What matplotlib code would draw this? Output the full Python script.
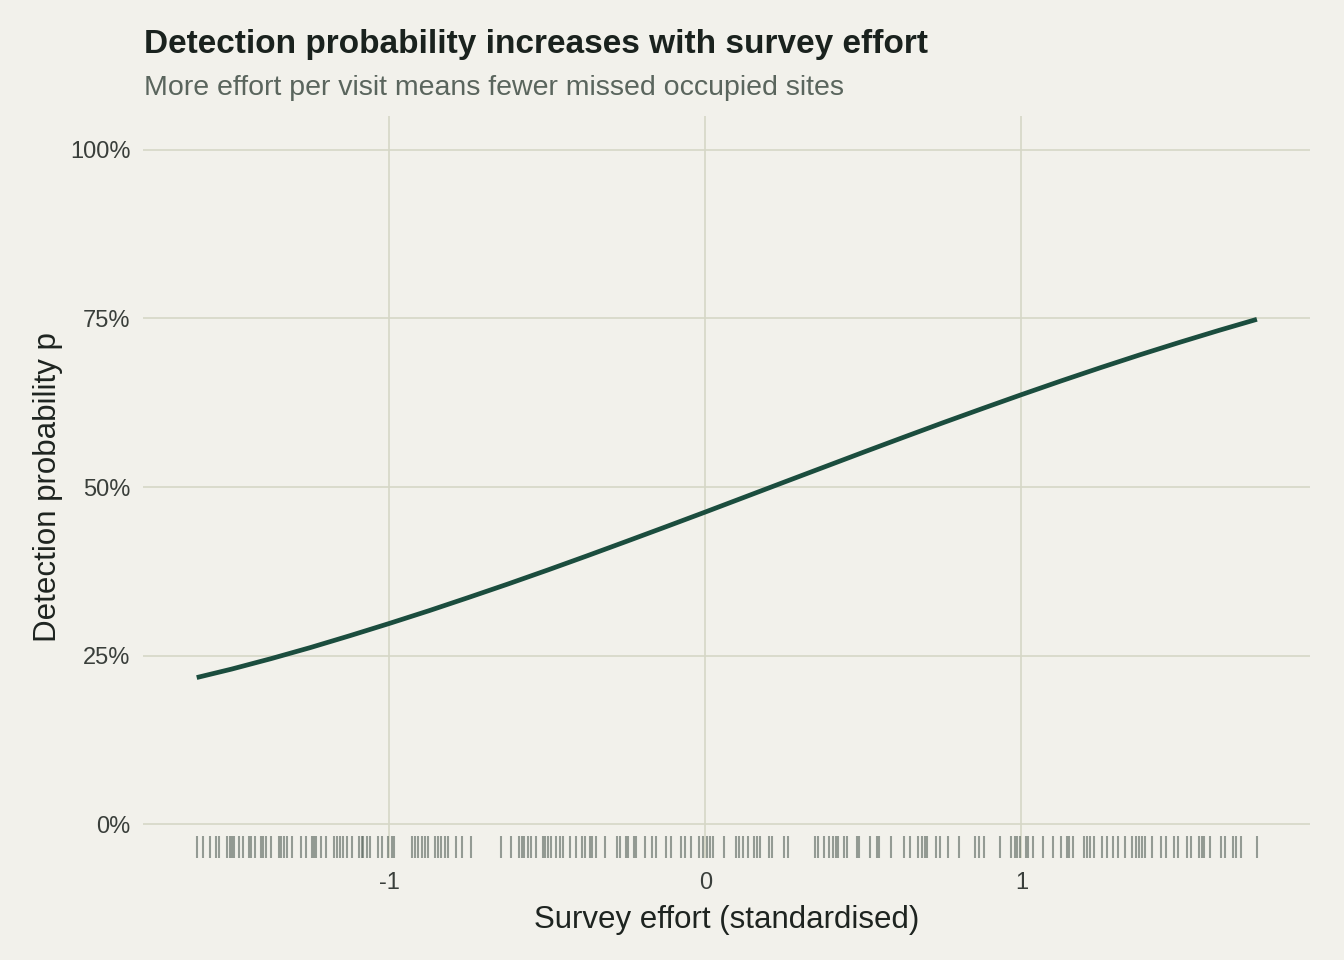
import numpy as np
import matplotlib.pyplot as plt
import matplotlib.transforms as mtransforms
from matplotlib.ticker import PercentFormatter

plt.rcParams['font.family'] = ['Liberation Sans', 'DejaVu Sans']
plt.rcParams['axes.unicode_minus'] = False

# Curva ajustada
effort_x = [-1.61, -1.5, -1.375, -1.25, -1.125, -1.0, -0.875, -0.75, -0.625, -0.5, -0.375,
            -0.25, -0.125, 0.0, 0.125, 0.25, 0.375, 0.5, 0.625, 0.75, 0.875, 1.0, 1.125,
            1.25, 1.375, 1.5, 1.625, 1.745]
detect_p = [0.2175, 0.2300, 0.2455, 0.2620, 0.2796, 0.2978, 0.3166, 0.3362, 0.3562, 0.3768,
            0.3979, 0.4194, 0.4411, 0.4630, 0.4852, 0.5074, 0.5295, 0.5516, 0.5734, 0.5950,
            0.6161, 0.6369, 0.6572, 0.6769, 0.6960, 0.7144, 0.7322, 0.7486]

# Esfuerzo observado en cada visita (rug)
rug_x = [-1.609, -1.590, -1.567, -1.548, -1.541, -1.514, -1.506, -1.499, -1.491, -1.476,
         -1.462, -1.446, -1.439, -1.427, -1.407, -1.399, -1.390, -1.375, -1.351, -1.344,
         -1.335, -1.325, -1.309, -1.281, -1.264, -1.246, -1.239, -1.232, -1.217, -1.201,
         -1.174, -1.167, -1.156, -1.146, -1.135, -1.120, -1.095, -1.088, -1.083, -1.070,
         -1.062, -1.035, -1.025, -1.004, -0.993, -0.985, -0.930, -0.919, -0.909, -0.896,
         -0.888, -0.877, -0.856, -0.848, -0.837, -0.825, -0.814, -0.791, -0.772, -0.743,
         -0.646, -0.616, -0.591, -0.582, -0.574, -0.561, -0.551, -0.535, -0.514, -0.509,
         -0.498, -0.488, -0.474, -0.461, -0.451, -0.430, -0.411, -0.390, -0.382, -0.367,
         -0.358, -0.348, -0.319, -0.280, -0.272, -0.253, -0.245, -0.227, -0.221, -0.190,
         -0.168, -0.156, -0.126, -0.108, -0.077, -0.066, -0.045, -0.019, -0.008, 0.004,
         0.013, 0.023, 0.060, 0.097, 0.107, 0.118, 0.134, 0.153, 0.163, 0.174,
         0.202, 0.210, 0.247, 0.262, 0.347, 0.357, 0.374, 0.392, 0.402, 0.413,
         0.420, 0.439, 0.448, 0.479, 0.487, 0.521, 0.542, 0.550, 0.587, 0.629,
         0.647, 0.674, 0.685, 0.695, 0.702, 0.729, 0.741, 0.766, 0.803, 0.853,
         0.864, 0.882, 0.931, 0.966, 0.979, 0.987, 0.994, 1.015, 1.022, 1.036,
         1.068, 1.100, 1.124, 1.145, 1.150, 1.164, 1.197, 1.206, 1.216, 1.229,
         1.255, 1.271, 1.290, 1.305, 1.329, 1.350, 1.361, 1.371, 1.382, 1.392,
         1.413, 1.443, 1.456, 1.482, 1.494, 1.524, 1.537, 1.561, 1.571, 1.579,
         1.596, 1.631, 1.645, 1.669, 1.680, 1.695, 1.745]

x_ticks = [-1, 0, 1]
y_ticks = [0, 0.25, 0.5, 0.75, 1.0]

bg = '#F2F1EB'
grid_col = '#D6D7C6'

fig = plt.figure(figsize=(13.44, 9.6), dpi=100, facecolor=bg)
ax = fig.add_axes([143/1344, 1 - 858/960, (1310-143)/1344, (858-116)/960])
ax.set_facecolor(bg)

# rug en fraccion del eje
trans = mtransforms.blended_transform_factory(ax.transData, ax.transAxes)
ax.vlines(rug_x, 0.0, 0.03, transform=trans, color='#55635A', alpha=0.6, linewidth=1.5)

ax.plot(effort_x, detect_p, color='#1B4D3E', linewidth=3.4, solid_capstyle='butt',
        solid_joinstyle='round')

ax.set_xlim(-1.78, 1.913)
ax.set_ylim(-0.05, 1.05)
ax.set_xticks(x_ticks)
ax.set_yticks(y_ticks)
ax.yaxis.set_major_formatter(PercentFormatter(1.0, decimals=0))
ax.grid(True, color=grid_col, linewidth=1.2)
ax.set_axisbelow(True)
for s in ax.spines.values():
    s.set_visible(False)
ax.tick_params(length=0, labelsize=17, labelcolor='#3A3F3B')
ax.tick_params(axis='y', pad=9)
ax.tick_params(axis='x', pad=10)

ax.set_xlabel('Survey effort (standardised)', fontsize=22.5, color='#1E2420', labelpad=8)
ax.set_ylabel('Detection probability p', fontsize=22.5, color='#1E2420', labelpad=5)

fig.text(144/1344, 1 - 53/960, 'Detection probability increases with survey effort',
         fontsize=24, fontweight='bold', color='#1A221E', ha='left', va='baseline')
fig.text(144/1344, 1 - 95/960, 'More effort per visit means fewer missed occupied sites',
         fontsize=20.5, color='#5A655D', ha='left', va='baseline')

fig.savefig('out.png', dpi=100, facecolor=bg)
